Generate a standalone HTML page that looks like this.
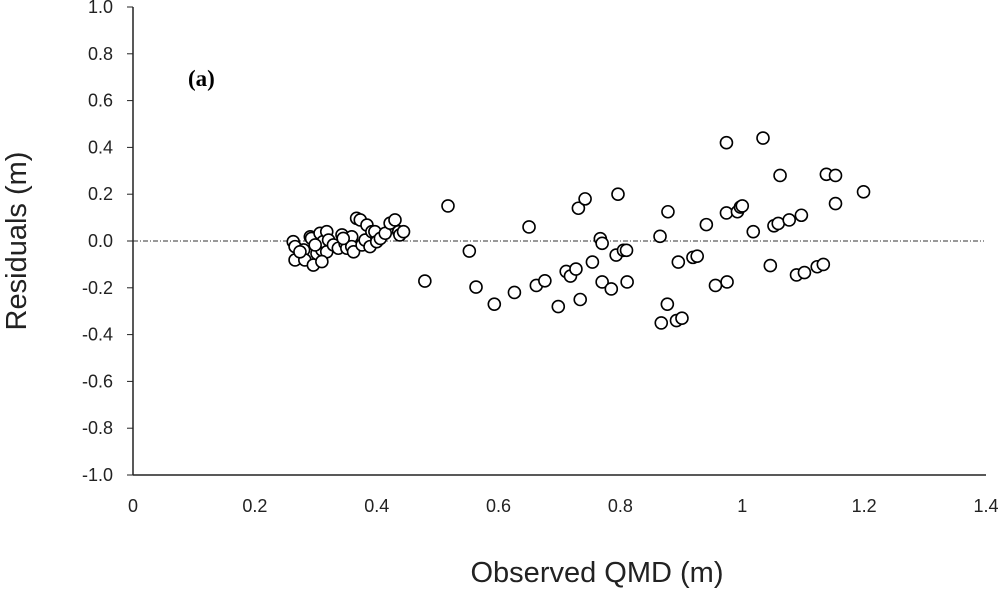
<!DOCTYPE html>
<html><head><meta charset="utf-8"><style>
html,body{margin:0;padding:0;background:#fff;}
svg{display:block;font-family:"Liberation Sans",sans-serif;}
</style></head><body>
<svg width="1000" height="590">
<g id="chart"></g>
</svg>
<script>
const xTicks=[0,0.2,0.4,0.6,0.8,1,1.2,1.4];
const xTickLabels=["0","0.2","0.4","0.6","0.8","1","1.2","1.4"];
const yTicks=[1,0.8,0.6,0.4,0.2,0,-0.2,-0.4,-0.6,-0.8,-1];
const yTickLabels=["1.0","0.8","0.6","0.4","0.2","0.0","-0.2","-0.4","-0.6","-0.8","-1.0"];
const obsX=[0.263,0.266,0.266,0.280,0.282,0.291,0.293,0.296,0.302,0.307,0.310,0.312,0.318,0.318,0.321,0.329,0.337,0.343,0.348,0.351,0.359,0.359,0.362,0.367,0.373,0.376,0.381,0.384,0.389,0.392,0.397,0.400,0.406,0.414,0.422,0.430,0.436,0.438,0.444,0.310,0.274,0.299,0.345,0.479,0.517,
0.552,0.563,0.593,0.626,0.650,0.662,0.676,0.698,0.711,0.718,0.727,0.731,0.734,0.742,0.754,0.767,0.770,0.770,0.785,0.793,0.796,0.805,0.810,0.811,0.865,0.867,0.878,0.877,0.895,0.892,0.901,0.919,0.926,0.941,0.956,0.974,0.974,0.975,0.992,0.997,1.0,1.018,1.034,1.046,1.052,1.059,1.062,1.077,1.089,1.097,1.102,1.123,1.133,1.138,1.153,1.153,1.199];
const residY=[-0.003,-0.024,-0.081,-0.038,-0.081,0.018,0.011,-0.103,-0.053,0.033,-0.038,-0.003,0.040,-0.046,0.004,-0.017,-0.031,0.026,-0.010,-0.031,0.018,-0.024,-0.046,0.097,0.090,-0.017,0.004,0.068,-0.024,0.040,0.040,-0.003,0.011,0.033,0.076,0.090,0.040,0.026,0.040,-0.088,-0.046,-0.017,0.011,-0.171,0.150,
-0.043,-0.197,-0.27,-0.22,0.06,-0.19,-0.17,-0.28,-0.13,-0.15,-0.12,0.14,-0.25,0.18,-0.09,0.01,-0.01,-0.175,-0.205,-0.06,0.20,-0.04,-0.04,-0.175,0.02,-0.35,0.125,-0.27,-0.09,-0.34,-0.33,-0.07,-0.065,0.07,-0.19,0.42,0.12,-0.175,0.125,0.145,0.15,0.04,0.44,-0.105,0.065,0.075,0.28,0.09,-0.145,0.11,-0.135,-0.11,-0.10,0.285,0.28,0.16,0.21];
const NS="http://www.w3.org/2000/svg";
const g=document.getElementById('chart');
const X0=133,X1=986,Y0=475,Y1=7;
function sx(v){return X0+(v-0)/(1.4-0)*(X1-X0);}
function sy(v){return Y0-(v+1)/2*(Y0-Y1);}
function mk(t,a,p){const e=document.createElementNS(NS,t);for(const k in a)e.setAttribute(k,a[k]);(p||g).appendChild(e);return e;}
let zl=mk('line',{x1:X0,x2:X1-2,y1:sy(0),y2:sy(0),stroke:'#333','stroke-width':1,'stroke-dasharray':'5,2,1,2'});


let ya=mk('line',{x1:X0,x2:X0,y1:Y1,y2:Y0,stroke:'#222','stroke-width':1.5});


let xa=mk('line',{x1:X0,x2:X1,y1:Y0,y2:Y0,stroke:'#222','stroke-width':1.5});


yTicks.forEach((v,i)=>{
  const t=mk('line',{x1:X0-6,x2:X0,y1:sy(v),y2:sy(v),stroke:'#222','stroke-width':1});
  
  
  const l=mk('text',{x:X0-20,y:sy(v)+6,'text-anchor':'end','font-size':18,fill:'#222'});
  l.textContent=yTickLabels[i];
  
  
});
xTicks.forEach((v,i)=>{
  const l=mk('text',{x:sx(v),y:Y0+37,'text-anchor':'middle','font-size':18,fill:'#222'});
  l.textContent=xTickLabels[i];
  
  
});
obsX.forEach((v,i)=>{
  const c=mk('circle',{cx:sx(v),cy:sy(residY[i]),r:6,fill:'#fff',stroke:'#000','stroke-width':1.6});
  
  
});
let xt=mk('text',{x:597,y:582,'text-anchor':'middle','font-size':29,fill:'#222'});
xt.textContent='Observed QMD (m)';


let yt=mk('text',{x:0,y:0,'text-anchor':'middle','font-size':29,fill:'#222',transform:'translate(26,241) rotate(-90)'});
yt.textContent='Residuals (m)';


let pl=mk('text',{x:188,y:86,'font-size':23,'font-weight':'bold','font-family':'Liberation Serif, serif',fill:'#000'});
pl.textContent='(a)';


</script>
</body></html>
